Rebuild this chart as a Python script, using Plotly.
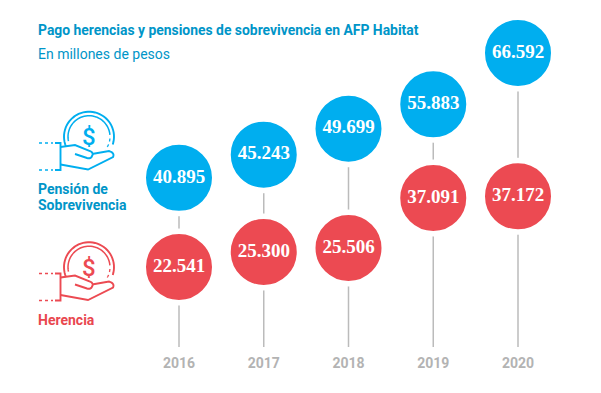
import math
import plotly.graph_objects as go

years = [2016, 2017, 2018, 2019, 2020]
year_labels = ["2016", "2017", "2018", "2019", "2020"]
pension = [40895, 45243, 49699, 55883, 66592]
herencia = [22541, 25300, 25506, 37091, 37172]
pension_labels = ["40.895", "45.243", "49.699", "55.883", "66.592"]
herencia_labels = ["22.541", "25.300", "25.506", "37.091", "37.172"]
# heights at which the circles sit in the picture (not strictly proportional)
pension_level = [40895, 45658, 51009, 56032, 66592]
herencia_level = [22541, 25629, 26452, 36744, 37094]

BLUE, RED = "#00AEEF", "#EC4A52"
BLUE_T, RED_T = "#0095C8", "#E9474F"
GRAY = "#BBBBBB"
GRAY_T = "#B3B3B3"
W, H, BOTTOM = 601, 393, 46
PLOT_H = H - BOTTOM
PX_YEAR = 84.75
PX_VAL = 0.004858
x0 = 2016 - 179 / PX_YEAR
y_bottom = 22541 - (PLOT_H - 267) / PX_VAL
y_top = 22541 + 267 / PX_VAL

fig = go.Figure()
for i, yr in enumerate(years):
    fig.add_trace(go.Scatter(x=[yr, yr], y=[y_bottom, pension_level[i]], mode="lines",
                             line=dict(color=GRAY, width=1.5), hoverinfo="skip", showlegend=False))
for level, labels, col, raw, name in [(pension_level, pension_labels, BLUE, pension, "Pensión de Sobrevivencia"),
                                      (herencia_level, herencia_labels, RED, herencia, "Herencia")]:
    fig.add_trace(go.Scatter(x=years, y=level, mode="markers+text", name=name, showlegend=False,
                             text=labels, textposition="middle center", customdata=raw,
                             textfont=dict(family="Liberation Serif", size=19, color="white", weight="bold"),
                             marker=dict(size=71.5, color=col, line=dict(color="white", width=5.5), opacity=1),
                             cliponaxis=False))


def px(x):
    return x / W


def py(y):
    return 1 - y / PLOT_H


def path(points):
    return "M" + " L".join(f"{px(a):.5f},{py(b):.5f}" for a, b in points)


def arc(cx, cy, r, a0, a1, n=40):
    return [(cx + r * math.cos(math.radians(a0 + (a1 - a0) * k / n)),
             cy - r * math.sin(math.radians(a0 + (a1 - a0) * k / n))) for k in range(n + 1)]


def curve(p0, c, p1, n=8):
    return [((1 - t) ** 2 * p0[0] + 2 * t * (1 - t) * c[0] + t * t * p1[0],
             (1 - t) ** 2 * p0[1] + 2 * t * (1 - t) * c[1] + t * t * p1[1]) for t in [k / n for k in range(n + 1)]]


shapes = []


def icon(dy, col):
    def add(points, width=1.9, dash="solid"):
        shapes.append(dict(type="path", xref="paper", yref="paper", path=path([(a, b + dy) for a, b in points]),
                           line=dict(color=col, width=width, dash=dash), layer="above"))
    add(arc(89, 136.7, 25, -18, 203))
    add(arc(89, 136.7, 21, 5, 192), 1.5)
    add(arc(89, 136.7, 21, -5, -38, 6), 1.3, "dot")
    add([(55, 143), (60.5, 143), (60.5, 170), (55, 170)])
    add([(39, 143), (53, 143)], 1.3, "dot")
    add([(39, 170), (53, 170)], 1.3, "dot")
    add([(60.5, 147), (75, 145), (90, 151)] + curve((90, 151), (94, 153), (92, 156)) +
        curve((92, 156), (91, 159), (87, 158)) + [(75, 154)])
    add([(92, 154), (109, 151)] + curve((109, 151), (115, 153), (113, 157)) + [(88, 169.5), (60.5, 164.5)])


icon(0, BLUE)
icon(130.5, RED)


def text(x, y, s, col, size, weight="normal", family="Roboto"):
    return dict(xref="paper", yref="paper", x=px(x), y=py(y), text=s, showarrow=False, xanchor="left", yanchor="middle",
                font=dict(family=family, size=size, color=col, weight=weight))


annotations = [
    text(36, 30, "Pago herencias y pensiones de sobrevivencia en AFP Habitat", BLUE_T, 13.9, "bold"),
    text(36, 54, "En millones de pesos", BLUE_T, 14),
    text(36, 189, "Pensión de", BLUE_T, 14, "bold"),
    text(36, 205, "Sobrevivencia", BLUE_T, 14, "bold"),
    text(36, 320, "Herencia", RED_T, 14, "bold"),
]
for dy, col in [(0, BLUE), (130.5, RED)]:
    a = text(89, 137 + dy, "$", col, 24, 500)
    a["xanchor"] = "center"
    annotations.append(a)

fig.update_layout(
    width=W, height=H, margin=dict(l=0, r=0, t=0, b=BOTTOM, pad=0),
    paper_bgcolor="white", plot_bgcolor="white", showlegend=False,
    shapes=shapes, annotations=annotations,
    xaxis=dict(range=[x0, x0 + W / PX_YEAR], tickmode="array", tickvals=years, ticktext=year_labels,
               showgrid=False, zeroline=False, showline=False, ticks="", ticklabelstandoff=6,
               tickfont=dict(family="Roboto", size=14, color=GRAY_T, weight="bold")),
    yaxis=dict(range=[y_bottom, y_top], visible=False),
)
fig.write_html("out.html", config=dict(displayModeBar=False),
               post_script="document.body.style.margin='0';")
